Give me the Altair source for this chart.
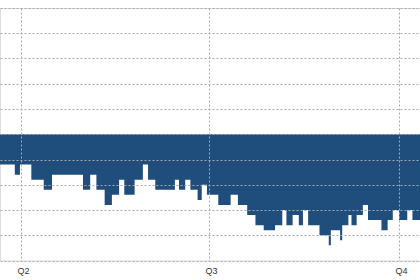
import altair as alt
import pandas as pd

dates = [
    "2023-03-15T00:00:00Z", "2023-03-29T00:00:00Z", "2023-03-31T12:00:00Z", "2023-04-06T00:00:00Z",
    "2023-04-12T00:00:00Z", "2023-04-16T00:00:00Z", "2023-05-01T00:00:00Z", "2023-05-04T12:00:00Z",
    "2023-05-07T12:00:00Z", "2023-05-11T12:00:00Z", "2023-05-15T00:00:00Z", "2023-05-18T12:00:00Z",
    "2023-05-21T00:00:00Z", "2023-05-26T00:00:00Z", "2023-05-30T00:00:00Z", "2023-06-01T12:00:00Z",
    "2023-06-05T00:00:00Z", "2023-06-14T12:00:00Z", "2023-06-16T12:00:00Z", "2023-06-19T12:00:00Z",
    "2023-06-22T00:00:00Z", "2023-06-25T12:00:00Z", "2023-06-27T12:00:00Z", "2023-06-30T00:00:00Z",
    "2023-07-05T12:00:00Z", "2023-07-11T12:00:00Z", "2023-07-15T00:00:00Z", "2023-07-19T12:00:00Z",
    "2023-07-23T12:00:00Z", "2023-07-27T12:00:00Z", "2023-08-02T00:00:00Z", "2023-08-05T12:00:00Z",
    "2023-08-07T12:00:00Z", "2023-08-10T12:00:00Z", "2023-08-13T12:00:00Z", "2023-08-15T12:00:00Z",
    "2023-08-18T00:00:00Z", "2023-08-23T12:00:00Z", "2023-08-28T00:00:00Z", "2023-08-29T00:00:00Z",
    "2023-09-02T12:00:00Z", "2023-09-03T12:00:00Z", "2023-09-06T12:00:00Z", "2023-09-08T00:00:00Z",
    "2023-09-10T12:00:00Z", "2023-09-13T12:00:00Z", "2023-09-16T00:00:00Z", "2023-09-22T12:00:00Z",
    "2023-09-25T12:00:00Z", "2023-09-28T00:00:00Z", "2023-10-01T00:00:00Z", "2023-10-05T00:00:00Z",
    "2023-10-07T12:00:00Z", "2023-10-20T00:00:00Z",
]
values = [
    -6, -8, -6, -9,
    -11, -8, -11, -8,
    -11, -14, -12, -9,
    -12, -9, -6, -9,
    -11, -9, -11, -9,
    -11, -13, -10, -12,
    -14, -12, -14, -16,
    -18, -19, -18, -15,
    -18, -16, -18, -15,
    -18, -20, -22, -19,
    -21, -18, -16, -18,
    -16, -14, -17, -19,
    -17, -15, -17, -15,
    -17, -17,
]
quarter_ticks = [
    alt.DateTime(year=2023, month=4, date=1, utc=True),
    alt.DateTime(year=2023, month=7, date=1, utc=True),
    alt.DateTime(year=2023, month=10, date=1, utc=True),
]
y_ticks = [-25, -20, -15, -10, -5, 0, 5, 10, 15, 20, 25]

df = pd.DataFrame({"date": dates, "value": values})

chart = alt.Chart(df).mark_area(
    interpolate="step-after", color="#1f4e7c", clip=True
).encode(
    x=alt.X(
        "date:T",
        scale=alt.Scale(
            type="utc",
            domain=[
                alt.DateTime(year=2023, month=3, date=21, hours=20, utc=True),
                alt.DateTime(year=2023, month=10, date=11, hours=4, utc=True),
            ],
        ),
        axis=alt.Axis(
            values=quarter_ticks,
            labelExpr="'Q' + utcquarter(datum.value)",
            title=None,
            domain=False,
            ticks=False,
            grid=True,
            gridDash=[2, 2],
            gridColor="#a8a8a8",
            gridWidth=1,
            labelFontSize=9,
            labelFont="Liberation Sans",
            labelColor="#333333",
            labelPadding=6,
            labelOffset=2,
            zindex=1,
        ),
    ),
    y=alt.Y(
        "value:Q",
        scale=alt.Scale(domain=[-25, 25], nice=False),
        axis=alt.Axis(
            values=y_ticks,
            title=None,
            labels=False,
            domain=False,
            ticks=False,
            grid=True,
            gridDash=[2, 2],
            gridColor="#a8a8a8",
            gridWidth=1,
            zindex=1,
        ),
    ),
    y2=alt.datum(0),
).properties(
    width=420,
    height=252.5,
    autosize=alt.AutoSizeParams(type="none"),
    padding={"left": 0, "top": 8, "right": 0, "bottom": 19.5},
).configure_view(stroke=None).configure(background="white")

chart.save("out.html", embed_options={"renderer": "svg", "actions": False})
